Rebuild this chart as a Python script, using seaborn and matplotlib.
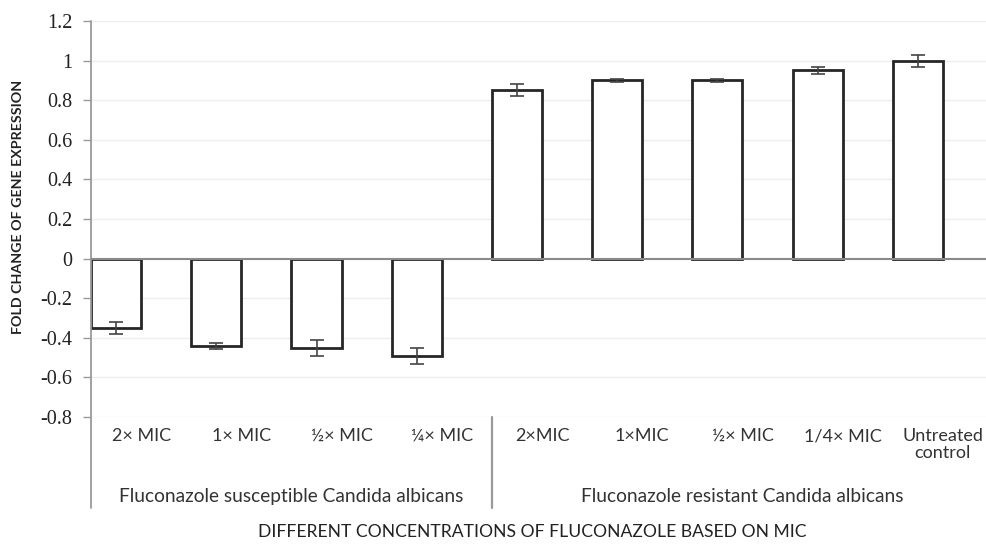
import matplotlib
matplotlib.use("Agg")
import matplotlib.pyplot as plt
import matplotlib.transforms as mtransforms
import seaborn as sns
import pandas as pd

# ---- data ----
tick_labels = ["2\u00d7 MIC", "1\u00d7 MIC", "\u00bd\u00d7 MIC", "\u00bc\u00d7 MIC",
               "2\u00d7MIC", "1\u00d7MIC", "\u00bd\u00d7 MIC", "1/4\u00d7 MIC", "Untreated\ncontrol"]
fold_change = [-0.35, -0.44, -0.45, -0.49, 0.85, 0.90, 0.90, 0.95, 1.00]
error = [0.03, 0.015, 0.04, 0.04, 0.03, 0.006, 0.006, 0.02, 0.03]
group_labels = ["Fluconazole susceptible Candida albicans", "Fluconazole resistant Candida albicans"]
group_sizes = [4, 5]
y_ticks = [-0.8, -0.6, -0.4, -0.2, 0, 0.2, 0.4, 0.6, 0.8, 1, 1.2]
y_tick_text = ["-0.8", "-0.6", "-0.4", "-0.2", "0", "0.2", "0.4", "0.6", "0.8", "1", "1.2"]
y_title = "FOLD CHANGE OF GENE EXPRESSION"
x_title = "DIFFERENT CONCENTRATIONS OF FLUCONAZOLE BASED ON MIC"

sns.set_theme(style="white")
plt.rcParams["font.family"] = ["Lato", "DejaVu Sans"]

W, H = 987, 549
fig = plt.figure(figsize=(W / 100, H / 100), dpi=100)
left_px, right_px, top_px, bot_px = 91, 987, 21, 417
ax = fig.add_axes([left_px / W, 1 - bot_px / H, (right_px - left_px) / W, (bot_px - top_px) / H])

df = pd.DataFrame({"slot": [str(i) for i in range(len(fold_change))], "value": fold_change})
sns.barplot(data=df, x="slot", y="value", ax=ax, color="white", edgecolor="#262626",
            linewidth=2.0, width=0.5, errorbar=None, saturation=1)
ax.errorbar(range(len(fold_change)), fold_change, yerr=error, fmt="none",
            ecolor="#444444", elinewidth=1.2, capsize=5, capthick=1.2, zorder=5)

ax.set_ylim(-0.8, 1.2)
ax.set_xlim(-0.25, 8.69)
ax.set_yticks(y_ticks)
ax.set_yticklabels(y_tick_text)
for lbl in ax.get_yticklabels():
    lbl.set_fontfamily(["Liberation Serif", "DejaVu Serif"])
    lbl.set_fontsize(14.5)
    lbl.set_color("#222222")
ax.tick_params(axis="y", which="major", left=True, length=5.5, width=1, color="#999999", pad=8)
ax.set_xticks([])
ax.set_xlabel("")
ax.set_ylabel("")
for s in ax.spines.values():
    s.set_visible(False)
for yv in y_ticks:
    if yv != 0:
        ax.axhline(yv, color="#eeeeee", lw=1.0, zorder=0)
ax.axhline(0, color="#8a8a8a", lw=1.5, zorder=3)

trans = mtransforms.blended_transform_factory(ax.transData, ax.transAxes)
# left axis line (extends down through the category label area)
ax.plot([-0.25, -0.25], [-0.23, 1.0], transform=trans, color="#9a9a9a", lw=1.3, clip_on=False)
start = 0
label_off = 0.25
for gi, n in enumerate(group_sizes):
    end = start + n
    if gi < len(group_sizes) - 1:
        xd = end - 1 + label_off + 0.5
        ax.plot([xd, xd], [-0.23, 0.0], transform=trans, color="#9a9a9a", lw=1.6, clip_on=False)
    center = (start - 0.5 + end - 0.5) / 2 + label_off
    ax.text(center, -0.202, group_labels[gi], transform=trans, ha="center", va="center",
            fontsize=13.8, color="#333333")
    start = end

for i, lab in enumerate(tick_labels):
    ax.text(i + label_off, -0.028, lab, transform=trans, ha="center", va="top",
            fontsize=13, color="#333333", linespacing=1.1)

ax.text(0.492, -0.29, x_title, transform=ax.transAxes, ha="center", va="center",
        fontsize=12.6, color="#222222")
fig.text(18 / W, 1 - 207 / H, y_title, rotation=90, ha="center", va="center",
         fontsize=10.3, color="#222222", fontweight="bold")

fig.savefig("out.png", dpi=100, facecolor="white")
